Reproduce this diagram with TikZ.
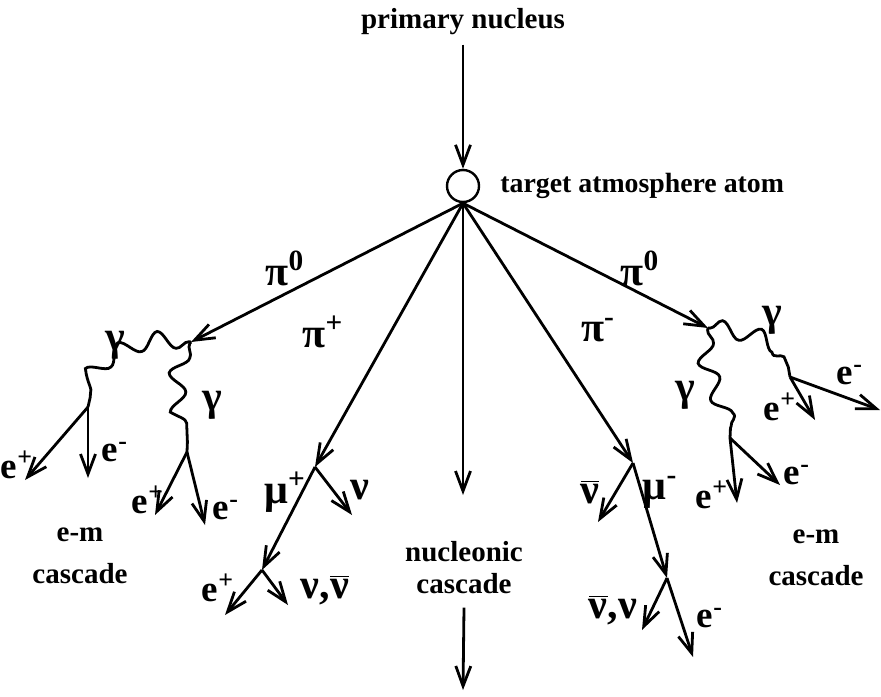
\documentclass[tikz,border=0pt]{standalone}
\usepackage{fontspec}
\setmainfont{Liberation Serif}
\usetikzlibrary{arrows.meta,decorations.pathmorphing}
\begin{document}
\begin{tikzpicture}[x=0.5pt,y=-0.5pt, line width=1.4pt,
  arr/.style={-{Straight Barb[length=10pt,width=7.5pt]}},
  ph/.style={decorate, decoration={snake, amplitude=4.2pt, segment length=19pt, pre length=1pt, post length=5pt}},
  txt/.style={font=\fontsize{14.5}{16}\selectfont\bfseries, inner sep=0pt},
  cas/.style={font=\fontsize{14.5}{21}\selectfont\bfseries, inner sep=0pt, align=center},
  gk/.style={font=\fontsize{21}{24}\selectfont\bfseries, inner sep=0pt},
  ep/.style={font=\fontsize{18.5}{20}\selectfont\bfseries, inner sep=0pt}]
\useasboundingbox (0,0) rectangle (881,696);
% main nodes
\node[txt] (prim) at (463,22) {primary nucleus};
\node[draw, circle, minimum size=16pt, inner sep=0pt, line width=1.2pt] (atom) at (463,186) {};
\node[txt, anchor=west, font=\fontsize{13.9}{16}\selectfont\bfseries] (tatom) at (499,186) {target atmosphere atom};
\node[txt, align=center, font=\fontsize{14.5}{16}\selectfont\bfseries] (nuc) at (464,568) {nucleonic\\cascade};
\node[cas] (emL) at (80,556) {e-m\\cascade};
\node[cas] (emR) at (816,558) {e-m\\cascade};
% vertices
\coordinate (pl) at (191,342);
\coordinate (gl1) at (88,407);
\coordinate (gl2) at (187,452);
\coordinate (mup) at (315,467);
\coordinate (epv) at (262,570);
\coordinate (mum) at (633,463);
\coordinate (emv) at (667,578);
\coordinate (pr) at (708,328);
\coordinate (gr1) at (790,377);
\coordinate (gr2) at (730,438);
\coordinate (nucTop) at (463,495);
\coordinate (nucEnd) at (463,690);
% end points
\coordinate (l1p) at (25,480);
\coordinate (l1m) at (88,478);
\coordinate (l2p) at (155,515);
\coordinate (l2m) at (205,525);
\coordinate (mupnu) at (352,515);
\coordinate (epp) at (225,615);
\coordinate (epnu) at (288,605);
\coordinate (mumnu) at (598,522);
\coordinate (emnu) at (642,630);
\coordinate (eme) at (693,657);
\coordinate (r1m) at (880,410);
\coordinate (r1p) at (815,420);
\coordinate (r2p) at (737,503);
\coordinate (r2m) at (780,485);
% connectors
\draw[arr] (prim.south) ++(0,8) -- (atom.north);
\draw[arr] (atom.south) -- (pl);
\draw[arr] (atom.south) -- (mup);
\draw[arr] (atom.south) -- (nucTop);
\draw[arr] (atom.south) -- (mum);
\draw[arr] (atom.south) -- (pr);
\draw[arr] (nuc.south) ++(0,12) -- (nucEnd);
% left em cascade
\draw[ph] (pl) .. controls (150,335) and (95,360) .. (gl1);
\draw[ph] (pl) .. controls (175,360) and (190,420) .. (gl2);
\draw[arr] (gl1) -- (l1p);
\draw[arr] (gl1) -- (l1m);
\draw[arr] (gl2) -- (l2p);
\draw[arr] (gl2) -- (l2m);
% mu+
\draw[arr] (mup) -- (mupnu);
\draw[arr] (mup) -- (epv);
\draw[arr] (epv) -- (epp);
\draw[arr] (epv) -- (epnu);
% mu-
\draw[arr] (mum) -- (mumnu);
\draw[arr] (mum) -- (emv);
\draw[arr] (emv) -- (emnu);
\draw[arr] (emv) -- (eme);
% right em cascade
\draw[ph] (pr) .. controls (740,330) and (790,345) .. (gr1);
\draw[ph] (pr) .. controls (700,360) and (735,400) .. (gr2);
\draw[arr] (gr1) -- (r1m);
\draw[arr] (gr1) -- (r1p);
\draw[arr] (gr2) -- (r2p);
\draw[arr] (gr2) -- (r2m);
% labels
\node[gk] (lpi0l) at (285,268) {π\textsuperscript{0}};
\node[gk] (lpip) at (323,332) {π\textsuperscript{+}};
\node[gk] (lpim) at (598,330) {π\textsuperscript{-}};
\node[gk] (lpi0r) at (640,268) {π\textsuperscript{0}};
\node[gk] (lgl1) at (115,345) {γ};
\node[gk] (lgl2) at (212,405) {γ};
\node[gk] (lgr1) at (772,320) {γ};
\node[gk] (lgr2) at (685,395) {γ};
\node[ep] (le1) at (17,465) {e\textsuperscript{+}};
\node[ep] (le2) at (115,452) {e\textsuperscript{-}};
\node[ep] (le3) at (148,500) {e\textsuperscript{+}};
\node[ep] (le4) at (226,510) {e\textsuperscript{-}};
\node[gk] (lmup) at (285,492) {μ\textsuperscript{+}};
\node[gk] (lnu1) at (360,490) {ν};
\node[ep] (le5) at (218,588) {e\textsuperscript{+}};
\node[gk] (lnu2) at (325,590) {ν,\(\overline{\hbox{ν}}\)};
\node[gk] (lnu3) at (590,492) {\(\overline{\hbox{ν}}\)};
\node[gk] (lmum) at (660,492) {μ\textsuperscript{-}};
\node[gk] (lnu4) at (613,610) {\(\overline{\hbox{ν}}\),ν};
\node[ep] (le6) at (710,618) {e\textsuperscript{-}};
\node[ep] (le7) at (850,375) {e\textsuperscript{-}};
\node[ep] (le8) at (780,407) {e\textsuperscript{+}};
\node[ep] (le9) at (712,495) {e\textsuperscript{+}};
\node[ep] (le10) at (797,475) {e\textsuperscript{-}};
\end{tikzpicture}
\end{document}
